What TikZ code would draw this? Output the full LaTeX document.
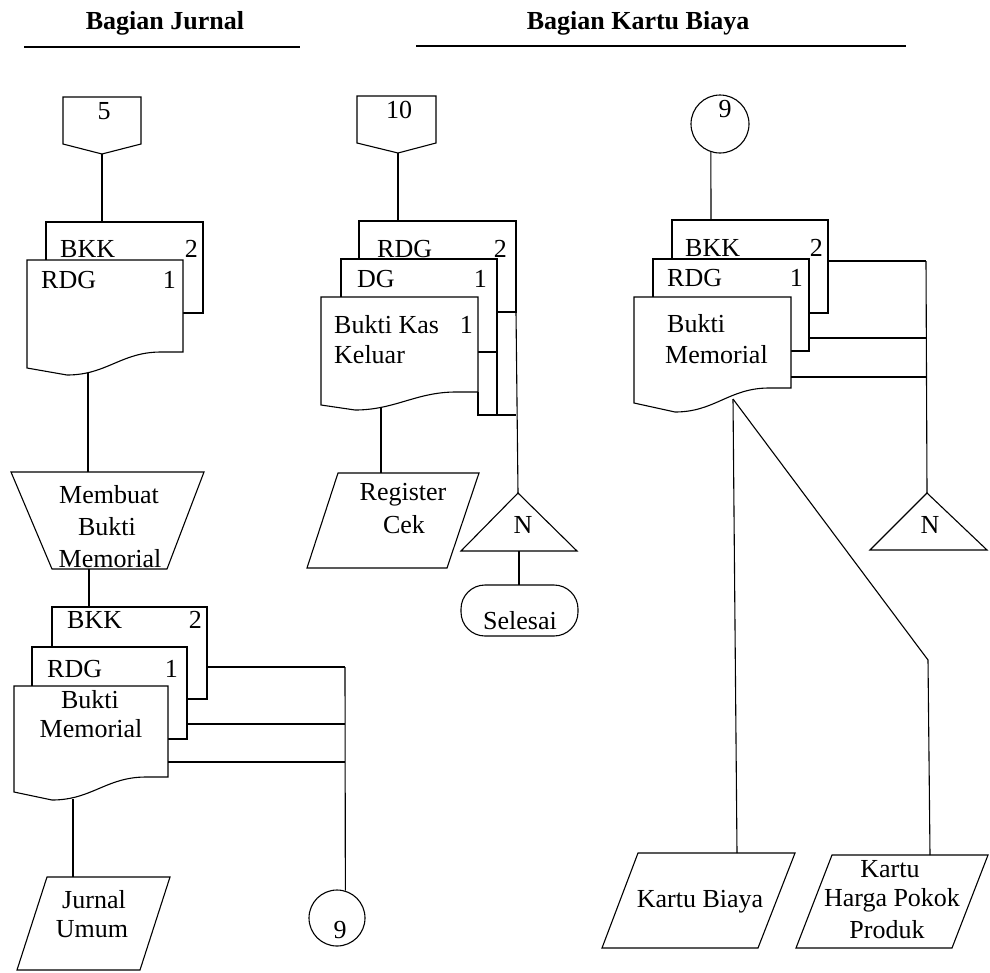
\documentclass[tikz,border=0pt]{standalone}
\usepackage{fontspec}
\setmainfont{Liberation Serif}

% document symbol: left, right, top, right-bottom y, left-bottom y, wave-low y, wave-low x
\newcommand{\flowdoc}[7]{%
  \draw[outline, fill=white] (#1,#3) -- (#2,#3) -- (#2,#4) -- ({#2-22},#4)
    .. controls ({#2-62},#4) and ({#7+40},#6) .. (#7,#6) -- (#1,#5) -- cycle;}

\begin{document}
\begin{tikzpicture}[x=1pt, y=-1pt,
  outline/.style={draw=black, line width=1.1pt, line join=miter},
  wire/.style={draw=black, line width=1.1pt},
  txt/.style={font=\fontsize{26}{30}\selectfont, inner sep=0pt, anchor=base},
  txtl/.style={txt, anchor=base west},
  txtr/.style={txt, anchor=base east},
  head/.style={font=\fontsize{26}{30}\selectfont\bfseries, inner sep=0pt, anchor=base}]
\useasboundingbox (0,0) rectangle (990,972);

% ---------- section headers ----------
\node[head] (hJurnal) at (165,29) {Bagian Jurnal};
\node[head] (hKartu) at (638,29) {Bagian Kartu Biaya};
\coordinate (uJa) at (24,47);  \coordinate (uJb) at (300,47);
\coordinate (uKa) at (416,46); \coordinate (uKb) at (906,46);
\draw[wire] (uJa) -- (uJb);
\draw[wire] (uKa) -- (uKb);

% ================= Bagian Jurnal =================
% off-page connector 5
\draw[outline] (63,97) -- (141,97) -- (141,144) -- (102,154) -- (63,144) -- cycle;
\coordinate (op5) at (102,154);
\node[txt] (t5) at (104,119) {5};

% incoming documents
\draw[outline, fill=white] (46,222) rectangle (203,313);
\coordinate (jBkkTop) at (102,222);
\node[txtl] (jBkk) at (60,257) {BKK};
\node[txtr] (jBkkN) at (198,257) {2};
\flowdoc{27}{183}{260}{352}{368}{375}{67}
\node[txtl] (jRdg) at (41,288) {RDG};
\node[txtr] (jRdgN) at (176,288) {1};
\coordinate (jRdgBot) at (88,373);
\draw[wire] (op5) -- (jBkkTop);

% manual operation
\draw[outline] (11,472) -- (204,472) -- (167,569) -- (52,569) -- cycle;
\coordinate (mopTop) at (88,472);
\coordinate (mopBot) at (89,569);
\node[txt] (mop1) at (109,503) {Membuat};
\node[txt] (mop2) at (107,535) {Bukti};
\node[txt] (mop3) at (110,567) {Memorial};
\draw[wire] (jRdgBot) -- (mopTop);

% output documents
\draw[outline, fill=white] (52,607) rectangle (207,699);
\coordinate (oBkkTop) at (89,607);
\node[txtl] (oBkk) at (67,628) {BKK};
\node[txtr] (oBkkN) at (202,628) {2};
\draw[outline, fill=white] (32,647) rectangle (187,739);
\node[txtl] (oRdg) at (47,677) {RDG};
\node[txtr] (oRdgN) at (178,677) {1};
\flowdoc{14}{168}{686}{777}{792}{800}{52}
\node[txt] (oBm1) at (90,708) {Bukti};
\node[txt] (oBm2) at (91,737) {Memorial};
\draw[wire] (mopBot) -- (oBkkTop);

% copies to connector 9
\coordinate (oA) at (207,667); \coordinate (oAx) at (345,667);
\coordinate (oB) at (187,724); \coordinate (oBx) at (345,724);
\coordinate (oC) at (168,762); \coordinate (oCx) at (345,762);
\node[outline, circle, minimum size=56pt, inner sep=0pt] (c9b) at (337,918) {};
\node[txt] (t9b) at (340,938) {9};
\draw[wire] (oA) -- (oAx);
\draw[wire] (oB) -- (oBx);
\draw[wire] (oC) -- (oCx);
\draw[wire] (oAx) -- (c9b.73);

% journal
\draw[outline] (47,877) -- (170,877) -- (140,970) -- (17,970) -- cycle;
\coordinate (juTop) at (73,877);
\coordinate (oBmBot) at (73,799);
\node[txt] (ju1) at (94,908) {Jurnal};
\node[txt] (ju2) at (92,937) {Umum};
\draw[wire] (oBmBot) -- (juTop);

% ================= Bagian Kartu Biaya (left) =================
\draw[outline] (357,96) -- (436,96) -- (436,143) -- (398,153) -- (357,143) -- cycle;
\coordinate (op10) at (398,153);
\node[txt] (t10) at (399,118) {10};

\draw[outline, fill=white] (359,221) rectangle (516,312);
\coordinate (mRdgTop) at (398,221);
\node[txtl] (mRdg) at (377,257) {RDG};
\node[txtr] (mRdgN) at (507,257) {2};
\draw[outline, fill=white] (341,259) rectangle (497,352);
\node[txtl] (mDg) at (357,287) {DG};
\node[txtr] (mDgN) at (487,287) {1};
\flowdoc{321}{478}{297}{392}{405}{410}{355}
\node[txtl] (mBk1) at (334,333) {Bukti Kas};
\node[txtr] (mBkN) at (473,333) {1};
\node[txtl] (mBk2) at (334,363) {Keluar};
\draw[wire] (op10) -- (mRdgTop);

% copies to file N
\coordinate (mA) at (478,392); \coordinate (mAj) at (478,415);
\coordinate (mB) at (497,352); \coordinate (mBj) at (497,415);
\coordinate (mC) at (516,312); \coordinate (mCj) at (516,415);
\coordinate (nMidTop) at (518,493);
\draw[wire] (mA) -- (mAj) -- (mCj);
\draw[wire] (mB) -- (mBj);
\draw[wire] (mC) -- (nMidTop);

% register
\draw[outline] (338,473) -- (479,473) -- (447,568) -- (307,568) -- cycle;
\coordinate (rcTop) at (381,473);
\coordinate (mBkBot) at (381,407);
\node[txt] (rc1) at (403,500) {Register};
\node[txt] (rc2) at (404,533) {Cek};
\draw[wire] (mBkBot) -- (rcTop);

% file N and end
\draw[outline] (nMidTop) -- (577,551) -- (461,551) -- cycle;
\node[txt] (nMid) at (523,533) {N};
\coordinate (nMidBot) at (519,551);
\draw[outline, rounded corners=24pt] (461,585) rectangle (578,636);
\coordinate (endTop) at (519,585);
\node[txt] (tEnd) at (520,629) {Selesai};
\draw[wire] (nMidBot) -- (endTop);

% ================= Bagian Kartu Biaya (right) =================
\node[outline, circle, minimum size=58pt, inner sep=0pt] (c9t) at (720,124) {};
\node[txt] (t9t) at (725,117) {9};

\draw[outline, fill=white] (672,220) rectangle (828,313);
\coordinate (rBkkTop) at (711,220);
\node[txtl] (rBkk) at (685,256) {BKK};
\node[txtr] (rBkkN) at (823,256) {2};
\draw[outline, fill=white] (653,259) rectangle (809,351);
\node[txtl] (rRdg) at (667,286) {RDG};
\node[txtr] (rRdgN) at (803,286) {1};
\flowdoc{634}{791}{297}{388}{403}{412}{675}
\node[txtl] (rBm1) at (667,332) {Bukti};
\node[txtl] (rBm2) at (665,363) {Memorial};
\draw[wire] (c9t.-108) -- (rBkkTop);

% copies to file N
\coordinate (rA) at (828,261); \coordinate (rAx) at (926,261);
\coordinate (rB) at (809,338); \coordinate (rBx) at (926,338);
\coordinate (rC) at (791,377); \coordinate (rCx) at (926,377);
\coordinate (nRTop) at (927,493);
\draw[wire] (rA) -- (rAx);
\draw[wire] (rB) -- (rBx);
\draw[wire] (rC) -- (rCx);
\draw[wire] (rAx) -- (nRTop);
\draw[outline] (nRTop) -- (987,550) -- (870,550) -- cycle;
\node[txt] (nR) at (930,533) {N};

% ledgers
\coordinate (rBmBot) at (733,399);
\draw[outline] (638,853) -- (795,853) -- (758,948) -- (602,948) -- cycle;
\coordinate (kbTop) at (737,853);
\node[txt] (kb) at (700,907) {Kartu Biaya};
\draw[outline] (832,855) -- (988,855) -- (952,948) -- (796,948) -- cycle;
\coordinate (hpBend) at (928,660);
\coordinate (hpTop) at (930,855);
\node[txt] (hp1) at (890,877) {Kartu};
\node[txt] (hp2) at (892,906) {Harga Pokok};
\node[txt] (hp3) at (887,938) {Produk};
\draw[wire] (rBmBot) -- (kbTop);
\draw[wire] (rBmBot) -- (hpBend) -- (hpTop);
\end{tikzpicture}
\end{document}
